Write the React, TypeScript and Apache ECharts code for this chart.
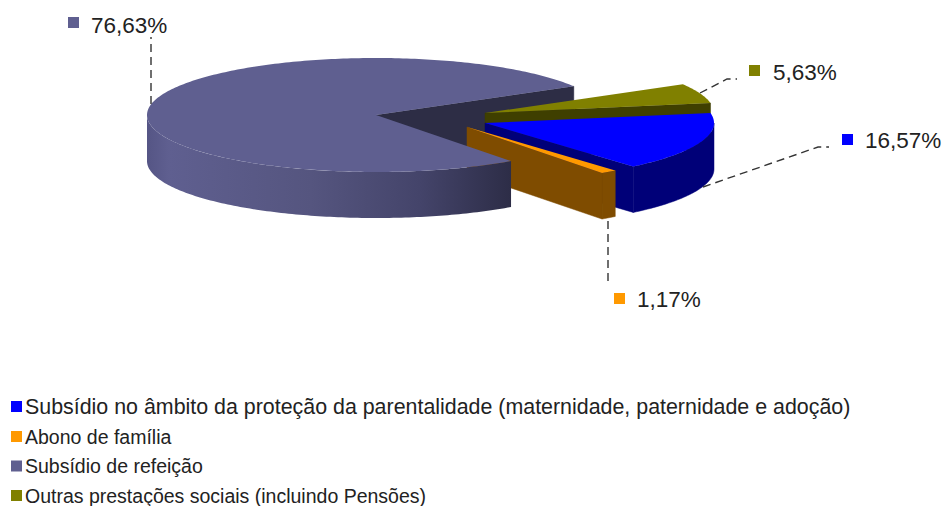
import React, { useEffect, useRef } from "react";
import * as echarts from "echarts";

const categories = [
  "Subsídio no âmbito da proteção da parentalidade (maternidade, paternidade e adoção)",
  "Abono de família",
  "Subsídio de refeição",
  "Outras prestações sociais (incluindo Pensões)",
];
const values = [16.57, 1.17, 76.63, 5.63];
const topColors = ["#0000ff", "#ff9900", "#5f5f90", "#808000"];
const sideColors = ["#000078", "#7f4c00", "#2d2d45", "#3f3f00"];

const FONT = '"Liberation Sans", Arial, sans-serif';
const START = -10;
const RX = 229;
const RY = 57;
const DEPTH = 46;
const apexes = [
  [485, 123],
  [467, 127],
  [376, 115],
  [485, 113],
];
const drawOrder = [40, 50, 60, 30];
const leaders = [
  [[703, 187], [818, 147], [829, 147]],
  [[608, 221], [608, 285]],
  [[151, 104], [151, 37]],
  [[700, 93], [727, 79], [737, 79]],
];
const labelBoxes = [
  { sx: 842, sy: 134, tx: 865, ty: 140 },
  { sx: 614, sy: 293, tx: 637, ty: 299 },
  { sx: 68, sy: 17, tx: 91, ty: 25 },
  { sx: 749, sy: 65, tx: 773, ty: 72 },
];

const pt = (c: number[], deg: number, dy = 0) => {
  const r = (deg * Math.PI) / 180;
  return [c[0] + RX * Math.cos(r), c[1] + RY * Math.sin(r) + dy];
};
const arc = (c: number[], a: number, b: number, dy = 0) => {
  const out: number[][] = [];
  const n = Math.max(2, Math.ceil(Math.abs(b - a)));
  for (let i = 0; i <= n; i++) out.push(pt(c, a + ((b - a) * i) / n, dy));
  return out;
};

const renderItem = (params: any, api: any) => {
  const i = params.seriesIndex;
  const total = values.reduce((s, v) => s + v, 0);
  const before = values.slice(0, i).reduce((s, v) => s + v, 0);
  const a1 = START + (before / total) * 360;
  const a2 = a1 + (api.value(0) / total) * 360;
  const c = apexes[i];
  const z = drawOrder[i];
  const children: any[] = [];

  // outer wall: only the part facing the viewer
  const ranges: number[][] = [];
  for (const k of [0, 360]) {
    const lo = Math.max(a1, k);
    const hi = Math.min(a2, k + 180);
    if (hi > lo) ranges.push([lo, hi]);
  }
  ranges.forEach(([lo, hi]) => {
    const fill =
      i === 2
        ? new echarts.graphic.LinearGradient(0, 0, 1, 0, [
            { offset: 0, color: "#555585" },
            { offset: 0.06, color: "#5f5f90" },
            { offset: 0.45, color: "#55557f" },
            { offset: 0.75, color: "#44446a" },
            { offset: 1, color: "#2d2d47" },
          ])
        : sideColors[i];
    children.push({
      type: "polygon",
      z2: z,
      shape: { points: [...arc(c, lo, hi), ...arc(c, hi, lo, DEPTH)] },
      style: { fill, stroke: i === 2 ? undefined : sideColors[i], lineWidth: 0.5 },
    });
  });

  // cut face at the end of the sweep
  const tip = pt(c, a2);
  children.push({
    type: "polygon",
    z2: i === 2 ? 10 : z,
    shape: { points: [c, tip, [tip[0], tip[1] + DEPTH], [c[0], c[1] + DEPTH]] },
    style: { fill: sideColors[i], stroke: sideColors[i], lineWidth: 0.5 },
  });

  // top face
  children.push({
    type: "polygon",
    z2: z + 1,
    shape: { points: [c, ...arc(c, a1, a2)] },
    style: { fill: topColors[i] },
  });

  // leader line and label
  const box = labelBoxes[i];
  children.push({
    type: "polyline",
    z2: 70,
    shape: { points: leaders[i] },
    style: { fill: "none", stroke: "#333333", lineWidth: 1.4, lineDash: [8, 5] },
  });
  children.push({
    type: "rect",
    z2: 70,
    shape: { x: box.sx, y: box.sy, width: 11, height: 11 },
    style: { fill: topColors[i] },
  });
  children.push({
    type: "text",
    z2: 70,
    style: {
      x: box.tx,
      y: box.ty,
      text: api.value(0).toFixed(2).replace(".", ",") + "%",
      fill: "#222222",
      fontFamily: FONT,
      fontSize: 22.5,
      verticalAlign: "middle",
      align: "left",
    },
  });
  return { type: "group", children };
};

export default function App() {
  const ref = useRef<HTMLDivElement>(null);
  useEffect(() => {
    document.body.style.margin = "0";
    const chart = echarts.init(ref.current!, undefined, { renderer: "svg" });
    chart.setOption({
      animation: false,
      backgroundColor: "#ffffff",
      legend: {
        orient: "vertical",
        left: 11,
        top: 396,
        height: 200,
        padding: 0,
        itemWidth: 11,
        itemHeight: 11,
        itemGap: 9.5,
        icon: "rect",
        selectedMode: false,
        data: categories,
        formatter: (n: string) => (n === categories[0] ? `{a|${n}}` : `{b|${n}}`),
        textStyle: {
          fontFamily: FONT,
          color: "#222222",
          padding: [0, 0, 0, -2],
          rich: {
            a: { fontFamily: FONT, fontSize: 21.4, color: "#222222", lineHeight: 19 },
            b: { fontFamily: FONT, fontSize: 19.5, color: "#222222", lineHeight: 19 },
          },
        },
      },
      series: categories.map((name, i) => ({
        type: "custom",
        name,
        coordinateSystem: "none",
        silent: true,
        clip: false,
        itemStyle: { color: topColors[i] },
        data: [[values[i]]],
        renderItem,
      })),
    });
    return () => chart.dispose();
  }, []);
  return <div ref={ref} style={{ width: 944, height: 506 }} />;
}
